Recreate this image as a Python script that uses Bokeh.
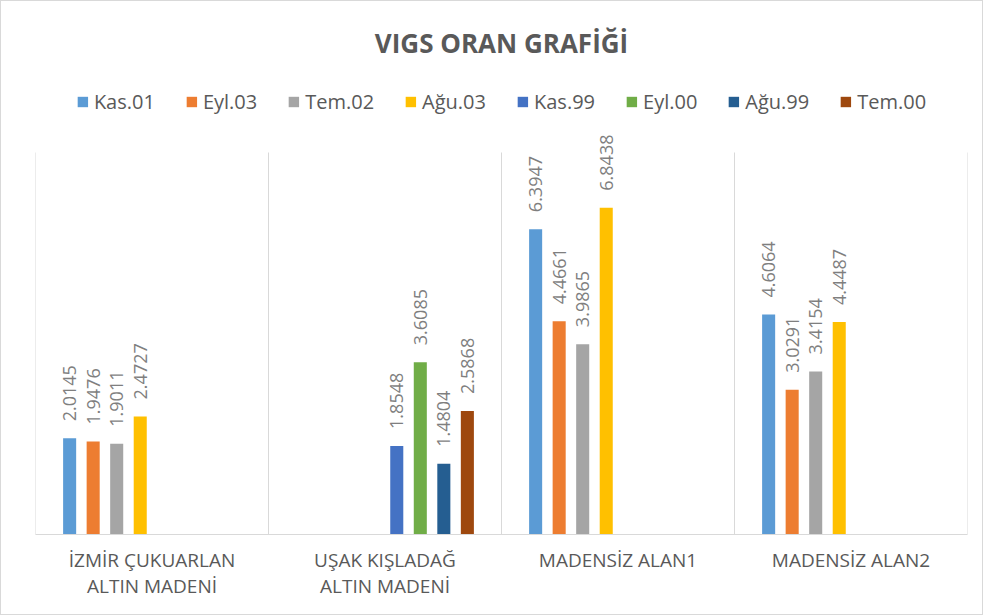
import math
from bokeh.plotting import figure
from bokeh.models import ColumnDataSource, Range1d, Legend, LegendItem, Label
from bokeh.transform import dodge
from bokeh.core.properties import value
from bokeh.embed import file_html
from bokeh.resources import INLINE

title_text = "VIGS ORAN GRAFİĞİ"
categories = ["İZMİR ÇUKUARLAN\nALTIN MADENİ", "UŞAK KIŞLADAĞ\nALTIN MADENİ", "MADENSİZ ALAN1", "MADENSİZ ALAN2"]
series_names = ["Kas.01", "Eyl.03", "Tem.02", "Ağu.03", "Kas.99", "Eyl.00", "Ağu.99", "Tem.00"]
colors = ["#5B9BD5", "#ED7D31", "#A5A5A5", "#FFC000", "#4472C4", "#70AD47", "#255E91", "#9E480E"]

kas01 = [2.0145, None, 6.3947, 4.6064]
eyl03 = [1.9476, None, 4.4661, 3.0291]
tem02 = [1.9011, None, 3.9865, 3.4154]
agu03 = [2.4727, None, 6.8438, 4.4487]
kas99 = [None, 1.8548, None, None]
eyl00 = [None, 3.6085, None, None]
agu99 = [None, 1.4804, None, None]
tem00 = [None, 2.5868, None, None]
series_values = [kas01, eyl03, tem02, agu03, kas99, eyl00, agu99, tem00]
y_max = 8

FONT = "Open Sans"
TXT = "#595959"

# frame is 520 px tall; value y_max sits 382 px above the baseline
px_per_unit = 382 / y_max
y_top = 520 / px_per_unit

p = figure(x_range=categories, y_range=Range1d(0, y_top),
           width=983, height=615, output_backend="svg", toolbar_location=None)
p.styles = {"border": "1px solid #D9D9D9"}
p.min_border_left = 34
p.min_border_right = 17
p.min_border_top = 13
p.min_border_bottom = 82
p.background_fill_color = "white"
p.border_fill_color = "white"
p.outline_line_color = None
p.xgrid.visible = False
p.ygrid.visible = False
p.yaxis.visible = False

ax = p.xaxis[0]
ax.axis_line_color = "#D9D9D9"
ax.major_tick_line_color = None
ax.minor_tick_line_color = None
ax.major_label_text_font = FONT
ax.major_label_text_font_size = "19px"
ax.major_label_text_color = TXT
ax.major_label_text_line_height = 1.0
ax.major_label_standoff = 6

# category separators
p.segment(x0=[0, 1, 2, 3, 4], y0=0, x1=[0, 1, 2, 3, 4], y1=y_max,
          line_color="#D9D9D9", line_width=1)

step = 0.101
items = []
for k, (name, vals, col) in enumerate(zip(series_names, series_values, colors)):
    xs = [c for c, v in zip(categories, vals) if v is not None]
    ys = [v for v in vals if v is not None]
    src = ColumnDataSource(dict(x=xs, top=ys, label=[f"{v:.4f}" for v in ys]))
    off = (k - 3.5) * step
    r = p.vbar(x=dodge("x", off, range=p.x_range), top="top", width=0.056, source=src,
               fill_color=col, line_color=None)
    p.text(x=dodge("x", off, range=p.x_range), y="top", text="label", source=src,
           angle=math.pi / 2, text_align="left", text_baseline="middle",
           y_offset=-17, text_font=value(FONT), text_font_size="18px", text_color="#7F7F7F")
    items.append(LegendItem(label=name, renderers=[r]))

legend = Legend(items=items, orientation="horizontal", location="top_center",
                glyph_width=13, glyph_height=13, label_standoff=5, spacing=30,
                padding=0, margin=74, label_height=24,
                label_text_font=FONT, label_text_font_size="20px", label_text_color=TXT,
                border_line_color=None, background_fill_alpha=0)
p.add_layout(legend, "center")

p.add_layout(Label(x=2, y=(532 - 40) / px_per_unit, text=title_text,
                   text_align="center", text_baseline="middle",
                   text_font=FONT, text_font_style="bold", text_font_size="26px",
                   text_color=TXT))

open("out.html", "w").write(file_html(p, INLINE))
